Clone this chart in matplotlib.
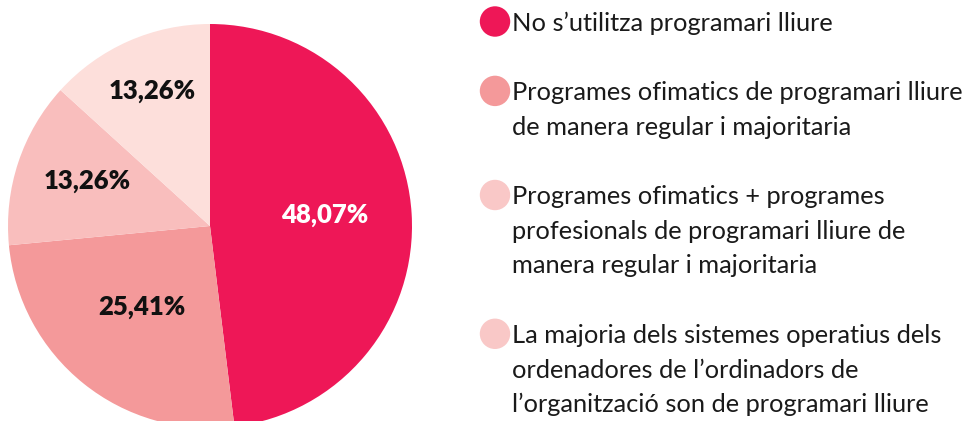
import numpy as np
import matplotlib.pyplot as plt

# data
labels = [
    "No s\u2019utilitza programari lliure",
    "Programes ofimatics de programari lliure\nde manera regular i majoritaria",
    "Programes ofimatics + programes\nprofesionals de programari lliure de\nmanera regular i majoritaria",
    "La majoria dels sistemes operatius dels\nordenadores de l\u2019ordinadors de\nl\u2019organització son de programari lliure",
]
values = [48.07, 25.41, 13.26, 13.26]
pct_text = ["48,07%", "25,41%", "13,26%", "13,26%"]

colors = ["#EE1757", "#F4999A", "#F9BEBD", "#FDDFDB"]
legend_colors = ["#EE1757", "#F4999A", "#F9C8C7", "#F9C8C7"]
label_colors = ["white", "#111111", "#111111", "#111111"]
label_radius = [0.57, 0.54, 0.64, 0.71]

plt.rcParams['font.family'] = ['Lato', 'DejaVu Sans']

W, H = 971, 421
fig = plt.figure(figsize=(W / 100, H / 100), dpi=100)

# pie axes: centre (210, 226) px, radius 202 px
r_px = 202
cx, cy = 210, 226
ax = fig.add_axes([(cx - r_px) / W, (H - cy - r_px) / H, 2 * r_px / W, 2 * r_px / H])
wedges, _ = ax.pie(values, colors=colors, startangle=90, counterclock=False,
                   radius=1, wedgeprops=dict(linewidth=0))
ax.set_xlim(-1, 1)
ax.set_ylim(-1, 1)
ax.axis('off')

for w, txt, c, rr in zip(wedges, pct_text, label_colors, label_radius):
    ang = np.deg2rad((w.theta1 + w.theta2) / 2)
    ax.text(rr * np.cos(ang), rr * np.sin(ang) + 0.02, txt, color=c, fontsize=18.5,
            fontweight='heavy', ha='center', va='center')

# legend drawn by hand in pixel coordinates
lg = fig.add_axes([0, 0, 1, 1])
lg.set_xlim(0, W)
lg.set_ylim(H, 0)
lg.axis('off')

line_h = 34.7
y = 23
for lab, c in zip(labels, legend_colors):
    lg.scatter([495], [y - 1.5], s=480, color=c, edgecolors='none')
    for i, line in enumerate(lab.split("\n")):
        lg.text(512, y + i * line_h, line, fontsize=18.3, color="#1a1a1a",
                ha='left', va='center')
    y += (len(lab.split("\n")) + 1) * line_h

fig.savefig("out.png", dpi=100)
